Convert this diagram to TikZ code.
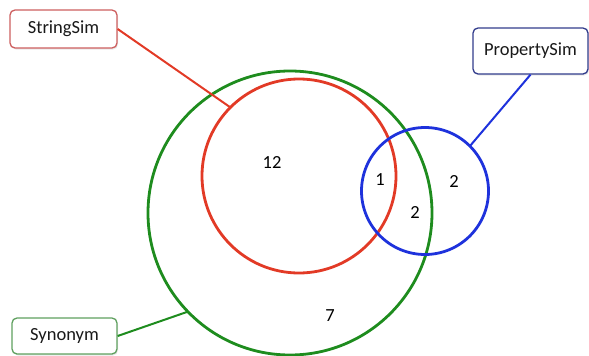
\documentclass[tikz,border=0pt]{standalone}
\usepackage{fontspec}
\setmainfont{Carlito}
\usepackage{xcolor}
\usepackage{tikz}
\usetikzlibrary{shadows}

\definecolor{setred}{RGB}{226,58,38}
\definecolor{setgreen}{RGB}{30,140,30}
\definecolor{setblue}{RGB}{30,50,220}
\definecolor{boxred}{RGB}{205,95,95}
\definecolor{boxblue}{RGB}{50,60,140}
\definecolor{boxgreen}{RGB}{95,160,95}

\begin{document}
\begin{tikzpicture}[
        x=1pt, y=-1pt,
        set/.style={draw, circle, line width=2.8pt, inner sep=0pt, outer sep=0pt},
        tag/.style={fill=white, rounded corners=5pt, line width=1.3pt, align=center,
            text=black!90, font=\fontsize{18.5}{22}\selectfont, inner sep=0pt,
            drop shadow={opacity=0.18, shadow xshift=1pt, shadow yshift=-1.5pt}},
        count/.style={font=\fontsize{18.5}{22}\selectfont, inner sep=0pt},
        link/.style={line width=2pt}
    ]
        \useasboundingbox (0,0) rectangle (589,356);

        \node[set, setgreen, minimum size=284pt] (synset) at (290,213) {};
        \node[set, setred, minimum size=194pt] (strset) at (299,176) {};
        \node[set, setblue, minimum size=127pt] (propset) at (425,191) {};

        \node[tag, draw=boxred, minimum width=107pt, minimum height=38pt] (stringsim) at (63.5,29) {StringSim};
        \node[tag, draw=boxblue, minimum width=115pt, minimum height=46pt] (propertysim) at (530.5,51) {PropertySim};
        \node[tag, draw=boxgreen, minimum width=105pt, minimum height=36pt] (synonym) at (64.5,336) {Synonym};

        \node[count] (n12) at (272,162) {12};
        \node[count] (n1) at (380,180) {1};
        \node[count] (n2a) at (415,212) {2};
        \node[count] (n2b) at (454,181) {2};
        \node[count] (n7) at (330,316) {7};

        \draw[link, setred] (stringsim.east) -- (strset.135);
        \draw[link, setblue] (propertysim.south) -- (propset.45);
        \draw[link, setgreen] (synonym.east) -- (synset.224);
    \end{tikzpicture}
\end{document}
